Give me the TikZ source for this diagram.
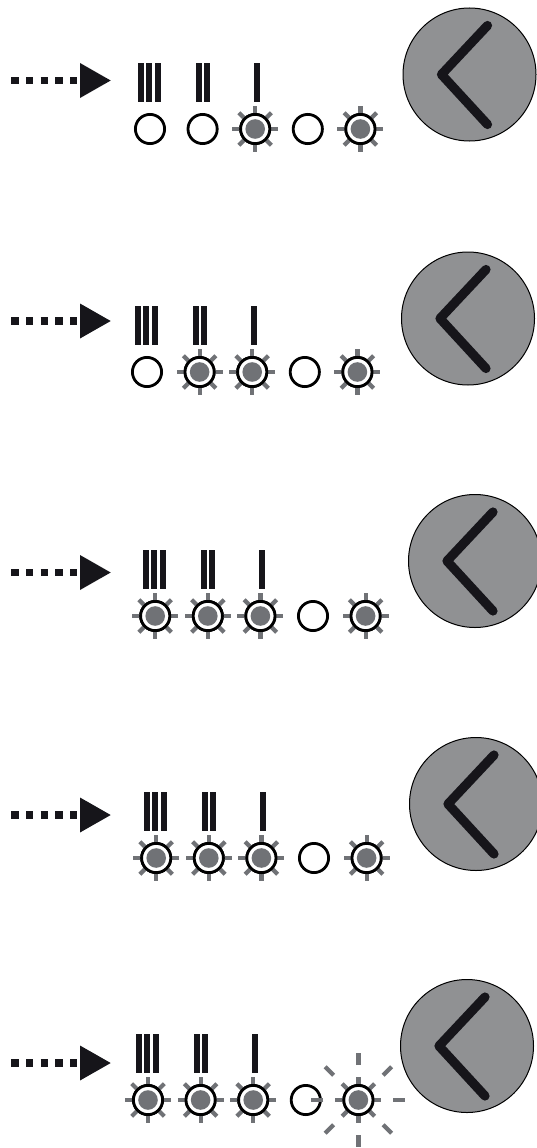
\documentclass[tikz,border=0pt]{standalone}
\definecolor{inkdark}{HTML}{16151A}
\definecolor{ledgray}{HTML}{707276}
\definecolor{dialgray}{HTML}{909193}
\tikzset{
    dialface/.style={draw=black, fill=dialgray, line width=1pt},
    chevron/.style={draw=inkdark, line width=9.2pt, line cap=round, line join=round},
    ledring/.style={draw=black, fill=white, line width=2.8pt},
    leddot/.style={fill=ledgray},
    ledray/.style={draw=ledgray, line width=4.2pt},
    tallybar/.style={fill=inkdark},
    feeddots/.style={draw=inkdark, line width=7.5pt, dash pattern=on 7.3pt off 7.4pt},
    feedhead/.style={fill=inkdark}
}
\begin{document}
\begin{tikzpicture}[x=1pt, y=-1pt]
    \useasboundingbox (0,0) rectangle (536,1148);

    % One row each: first led x, led y, dial x, dial y, arrow y, lit leds
    \foreach \ledx/\ledy/\dialx/\dialy/\feedy/\litleds in {
        150/129/469.5/74.5/80.5/{3,5},
        147/372/468/318.5/321/{2,3,5},
        155.2/616/475/561/572.5/{1,2,3,5},
        156.2/858/476/804/815/{1,2,3,5},
        148/1100/467/1046/1063/{1,2,3,5}} {

        % Dial
        \draw[dialface] (\dialx,\dialy) circle (66.5);
        \draw[chevron] (\dialx+18,\dialy-49) -- (\dialx-28,\dialy) -- (\dialx+18,\dialy+50);

        % Feed arrow
        \draw[feeddots] (11.3,\feedy) -- (77.7,\feedy);
        \fill[feedhead] (80,\feedy-17.5) -- (110.7,\feedy) -- (80,\feedy+17.5) -- cycle;

        % Tally marks
        \foreach \barx in {-12,-4,5,46,54,104} {
            \fill[tallybar] (\ledx+\barx,\ledy-66) rectangle (\ledx+\barx+6,\ledy-27);
        }

        % Leds
        \foreach \n in {1,...,5} {
            \draw[ledring] (\ledx+52.6*\n-52.6,\ledy) circle (14.6);
        }
        \foreach \n in \litleds {
            \foreach \a in {0,45,...,315} {
                \draw[ledray] (\ledx+52.6*\n-52.6,\ledy) ++(\a:12) -- ++(\a:11);
            }
            \draw[ledring] (\ledx+52.6*\n-52.6,\ledy) circle (14.6);
            \fill[leddot] (\ledx+52.6*\n-52.6,\ledy) circle (9.8);
        }
    }

    % Flash around the last led
    \foreach \a in {0,45,...,315} {
        \draw[ledray] (358.4,1100) ++(\a:35) -- ++(\a:12);
    }
\end{tikzpicture}
\end{document}
